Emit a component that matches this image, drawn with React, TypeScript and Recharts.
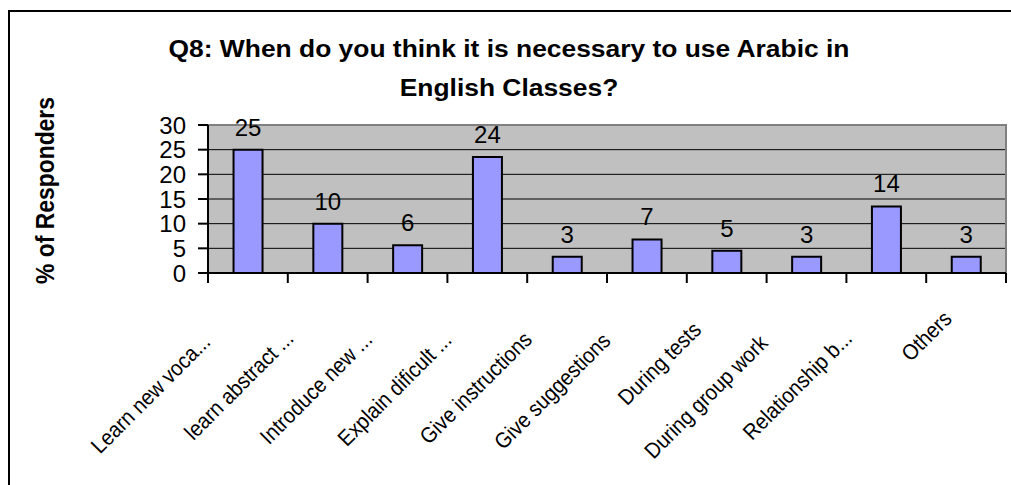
import React from "react";
import {
  BarChart,
  Bar,
  XAxis,
  YAxis,
  CartesianGrid,
  LabelList,
  ReferenceArea,
} from "recharts";

const categories = [
  "Learn new voca...",
  "learn abstract ...",
  "Introduce new ...",
  "Explain dificult ...",
  "Give instructions",
  "Give suggestions",
  "During tests",
  "During group work",
  "Relationship b...",
  "Others",
];
const values = [25, 10, 5.6, 23.5, 3.3, 6.8, 4.5, 3.3, 13.5, 3.3];
const yTicks = [0, 5, 10, 15, 20, 25, 30];
const titleLines = [
  "Q8: When do you think it is necessary to use Arabic in",
  "English Classes?",
];
const yAxisTitle = "% of Responders";

const data = categories.map((name, i) => ({ name, value: values[i] }));

const FONT = '"Liberation Sans", Arial, sans-serif';

let canvasCtx: CanvasRenderingContext2D | null = null;
function measure(text: string, size: number): number {
  if (!canvasCtx) {
    const c = document.createElement("canvas");
    canvasCtx = c.getContext("2d");
  }
  if (!canvasCtx) return text.length * size * 0.5;
  canvasCtx.font = `${size}px ${FONT}`;
  return canvasCtx.measureText(text).width;
}

const XTick = (props: any) => {
  const { x, y, payload, width, visibleTicksCount, index } = props;
  const half =
    payload && typeof payload.offset === "number" && payload.offset > 0
      ? payload.offset
      : width / visibleTicksCount / 2;
  const label = String(payload.value);
  const L = measure(label, 20);
  const last = index === visibleTicksCount - 1;
  return (
    <g>
      <line x1={x - half} x2={x - half} y1={y} y2={y + 10} stroke="#000" strokeWidth={2} />
      {last && (
        <line x1={x + half} x2={x + half} y1={y} y2={y + 10} stroke="#000" strokeWidth={2} />
      )}
      <text
        transform={`translate(${x + 1},${y + 33}) rotate(-45)`}
        x={-L / 3}
        y={0}
        textAnchor="end"
        fontSize={22}
        textLength={L}
        lengthAdjust="spacingAndGlyphs"
        fontFamily={FONT}
        fill="#000"
      >
        {label}
      </text>
    </g>
  );
};

export default function App() {
  return (
    <div
      style={{
        position: "fixed",
        left: 0,
        top: 0,
        width: 1011,
        height: 485,
        overflow: "hidden",
        background: "#fff",
      }}
    >
      <div
        style={{
          position: "absolute",
          left: 8,
          top: 10,
          width: 2000,
          height: 2000,
          borderLeft: "2px solid #000",
          borderTop: "2px solid #000",
        }}
      />
      <div style={{ position: "absolute", left: 0, top: 0 }}>
        <BarChart
          width={1011}
          height={485}
          data={data}
          margin={{ top: 125, right: 5, bottom: 12, left: 0 }}
          barCategoryGap="32%"
        >
          <CartesianGrid
            vertical={false}
            stroke="#000"
            strokeWidth={1}
            fill="#C0C0C0"
            fillOpacity={1}
          />
          <ReferenceArea
            y1={0}
            y2={30}
            fill="none"
            stroke="#808080"
            strokeWidth={2}
            ifOverflow="visible"
          />
          <XAxis
            dataKey="name"
            type="category"
            height={200}
            interval={0}
            tickSize={0}
            tickMargin={0}
            tickLine={false}
            axisLine={{ stroke: "#000", strokeWidth: 2 }}
            tick={(p: any) => <XTick {...p} />}
          />
          <YAxis
            type="number"
            domain={[0, 30]}
            ticks={yTicks}
            interval={0}
            width={208}
            tickSize={10}
            tickMargin={12}
            axisLine={{ stroke: "#000", strokeWidth: 2 }}
            tickLine={{ stroke: "#000", strokeWidth: 2 }}
            tick={{ fill: "#000", fontSize: 24, fontFamily: FONT }}
          />
          <Bar
            dataKey="value"
            fill="#9999FF"
            stroke="#000"
            strokeWidth={2}
            isAnimationActive={false}
          >
            <LabelList
              dataKey="value"
              position="top"
              offset={14}
              formatter={(v: any) => Math.round(Number(v))}
              style={{ fill: "#000", fontSize: 24, fontFamily: FONT }}
            />
          </Bar>
        </BarChart>
      </div>
      <svg
        width={1011}
        height={485}
        style={{ position: "absolute", left: 0, top: 0, pointerEvents: "none" }}
      >
        <g transform="translate(509,0) scale(1.1,1)">
          <text x={0} y={57} textAnchor="middle" fontSize={24} fontWeight="bold" fontFamily={FONT} fill="#000">
            {titleLines[0]}
          </text>
          <text x={0} y={96} textAnchor="middle" fontSize={24} fontWeight="bold" fontFamily={FONT} fill="#000">
            {titleLines[1]}
          </text>
        </g>
        <text
          transform="translate(54,190.5) rotate(-90)"
          textAnchor="middle"
          fontSize={26}
          textLength={187}
          lengthAdjust="spacingAndGlyphs"
          fontWeight="bold"
          fontFamily={FONT}
          fill="#000"
        >
          {yAxisTitle}
        </text>
      </svg>
    </div>
  );
}
